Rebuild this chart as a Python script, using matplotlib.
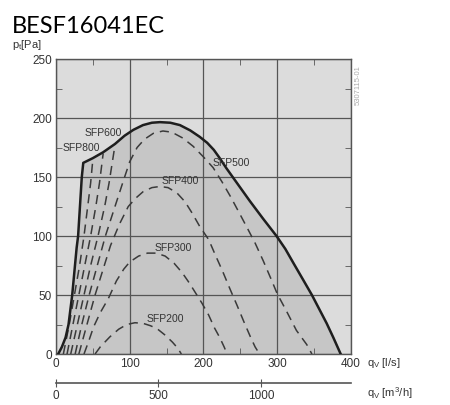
import numpy as np
import matplotlib.pyplot as plt

plt.rcParams['font.family'] = ['Liberation Sans', 'DejaVu Sans']
plt.rcParams['mathtext.default'] = 'regular'

# envelope of the fan (solid line), q [l/s], pt [Pa]
env_q = [3, 8, 13, 17, 20, 22, 25, 28, 30, 32, 35, 37, 50, 64, 80, 93, 105, 118, 130,
         141, 155, 168, 182, 195, 205, 214, 222, 231, 247, 263, 281, 299, 311, 322, 335,
         347, 357, 367, 376, 386]
env_p = [0, 6, 14, 25, 40, 50, 70, 90, 100, 120, 150, 162, 166, 171, 178, 185, 190, 194, 196,
         196.5, 196, 194, 189.5, 184, 179, 173, 166, 157.5, 143.5, 129.5, 114.5, 100, 89, 77, 63,
         50, 38, 26, 14, 0]

# SFP curves (dashed)
sfp_a_q = [10, 18, 25, 32, 38, 43, 47, 50]
sfp_a_p = [0, 25, 50, 75, 100, 125, 145, 165]
sfp_b_q = [15, 23, 31, 39, 47, 54, 59, 64]
sfp_b_p = [0, 25, 50, 75, 100, 125, 145, 170]
sfp_c_q = [20, 29, 38, 47, 57, 66, 72, 80]
sfp_c_p = [0, 25, 50, 75, 100, 125, 145, 177]
sfp500_q = [26, 35, 45, 56, 67, 80, 92, 100, 110, 120, 132, 145, 157, 172, 186, 200, 213,
            225, 237, 249, 260, 270, 281, 292, 300, 312, 326, 340, 347]
sfp500_p = [0, 25, 50, 75, 100, 125, 148, 163, 175, 182, 187, 189, 188, 183, 176, 167, 158,
            146, 133, 119, 106, 94, 79, 63, 51, 37, 20, 8, 0]
sfp400_q = [31, 42, 53, 63, 74, 86, 98, 108, 118, 130, 141, 152, 164, 175, 185, 195, 207,
            216, 226, 236, 245, 255, 264, 270, 276]
sfp400_p = [0, 25, 50, 70, 92, 110, 125, 132, 137.5, 141, 142, 141, 136.5, 129, 119, 108, 97,
            84, 70, 55, 42, 27, 14, 6, 0]
sfp300_q = [38, 45, 51, 60, 71, 82, 92, 100, 112, 124, 136, 148, 160, 171, 181, 190, 198, 207,
            215, 222, 228, 232]
sfp300_p = [0, 12, 23, 35, 47, 62, 72, 78, 83, 85.5, 85.5, 83, 77, 69, 60, 51, 43, 33,
            22, 14, 6, 0]
sfp200_q = [53, 60, 73, 85, 96, 107, 118, 128, 137, 148, 158, 165, 170]
sfp200_p = [0, 6, 14.5, 21, 25, 26.5, 26, 24, 21.5, 16, 10, 5, 0]

labels = ['SFP800', 'SFP600', 'SFP500', 'SFP400', 'SFP300', 'SFP200']
label_q = [9, 39, 212, 143, 134, 123]
label_p = [175, 187, 162, 147, 89.5, 30]

fig = plt.figure(figsize=(4.5, 4.05), dpi=100)
ax = fig.add_axes([0.1244, 0.1259, 0.6556, 0.7284])
ax.set_facecolor('#dcdcdc')

ax.fill_between(env_q, env_p, 0, color='#c6c6c6', zorder=1)
ax.grid(True, color='#555555', linewidth=0.9, zorder=2)
ax.set_axisbelow(False)

dash = dict(color='#3a3a3a', linewidth=1.1, linestyle=(0, (6, 4)), zorder=3)
for q, p in [(sfp_a_q, sfp_a_p), (sfp_b_q, sfp_b_p), (sfp_c_q, sfp_c_p),
             (sfp500_q, sfp500_p), (sfp400_q, sfp400_p), (sfp300_q, sfp300_p),
             (sfp200_q, sfp200_p)]:
    ax.plot(q, p, **dash)

ax.plot(env_q, env_p, color='#1e1e1e', linewidth=1.8, zorder=4, solid_joinstyle='round')

for t, q, p in zip(labels, label_q, label_p):
    ax.text(q, p, t, fontsize=7.5, color='#333333', ha='left', va='center', zorder=5)

ax.set_xlim(0, 400)
ax.set_ylim(0, 250)
ax.set_xticks([0, 100, 200, 300, 400])
ax.set_yticks([0, 50, 100, 150, 200, 250])
ax.set_xticks(np.arange(50, 400, 100), minor=True)
ax.set_yticks(np.arange(25, 250, 50), minor=True)
ax.tick_params(which='major', length=0, labelsize=8.5, labelcolor='#333333', pad=3)
ax.tick_params(which='minor', direction='in', length=4, color='#555555',
               top=True, right=True, bottom=True, left=True)
for s in ax.spines.values():
    s.set_color('#555555')
    s.set_linewidth(1.0)

# second flow axis in m3/h
ax2 = fig.add_axes([0.1244, 0.0543, 0.6556, 0.0001])
ax2.set_xlim(0, 400 * 3.6)
ax2.set_yticks([])
for s in ['top', 'left', 'right']:
    ax2.spines[s].set_visible(False)
ax2.spines['bottom'].set_color('#555555')
ax2.spines['bottom'].set_linewidth(1.2)
ax2.set_xticks([0, 500, 1000])
ax2.tick_params(axis='x', direction='inout', length=6, color='#555555',
                labelsize=8.5, labelcolor='#333333', pad=2)
ax2.patch.set_visible(False)

fig.text(0.027, 0.935, 'BESF16041EC', fontsize=17, family='Lato', color='black',
         ha='left', va='center')
fig.text(0.027, 0.888, r'p$_{t}$[Pa]', fontsize=8, color='#333333', ha='left', va='center')
fig.text(0.815, 0.104, r'q$_{V}$ [l/s]', fontsize=8, color='#333333', ha='left', va='center')
fig.text(0.815, 0.03, r'q$_{V}$ [m$^{3}$/h]', fontsize=8, color='#333333', ha='left', va='center')
fig.text(0.795, 0.79, '5307115-01', fontsize=5.5, color='#aaaaaa', rotation=90,
         ha='center', va='center')

fig.savefig('out.png', dpi=100)
